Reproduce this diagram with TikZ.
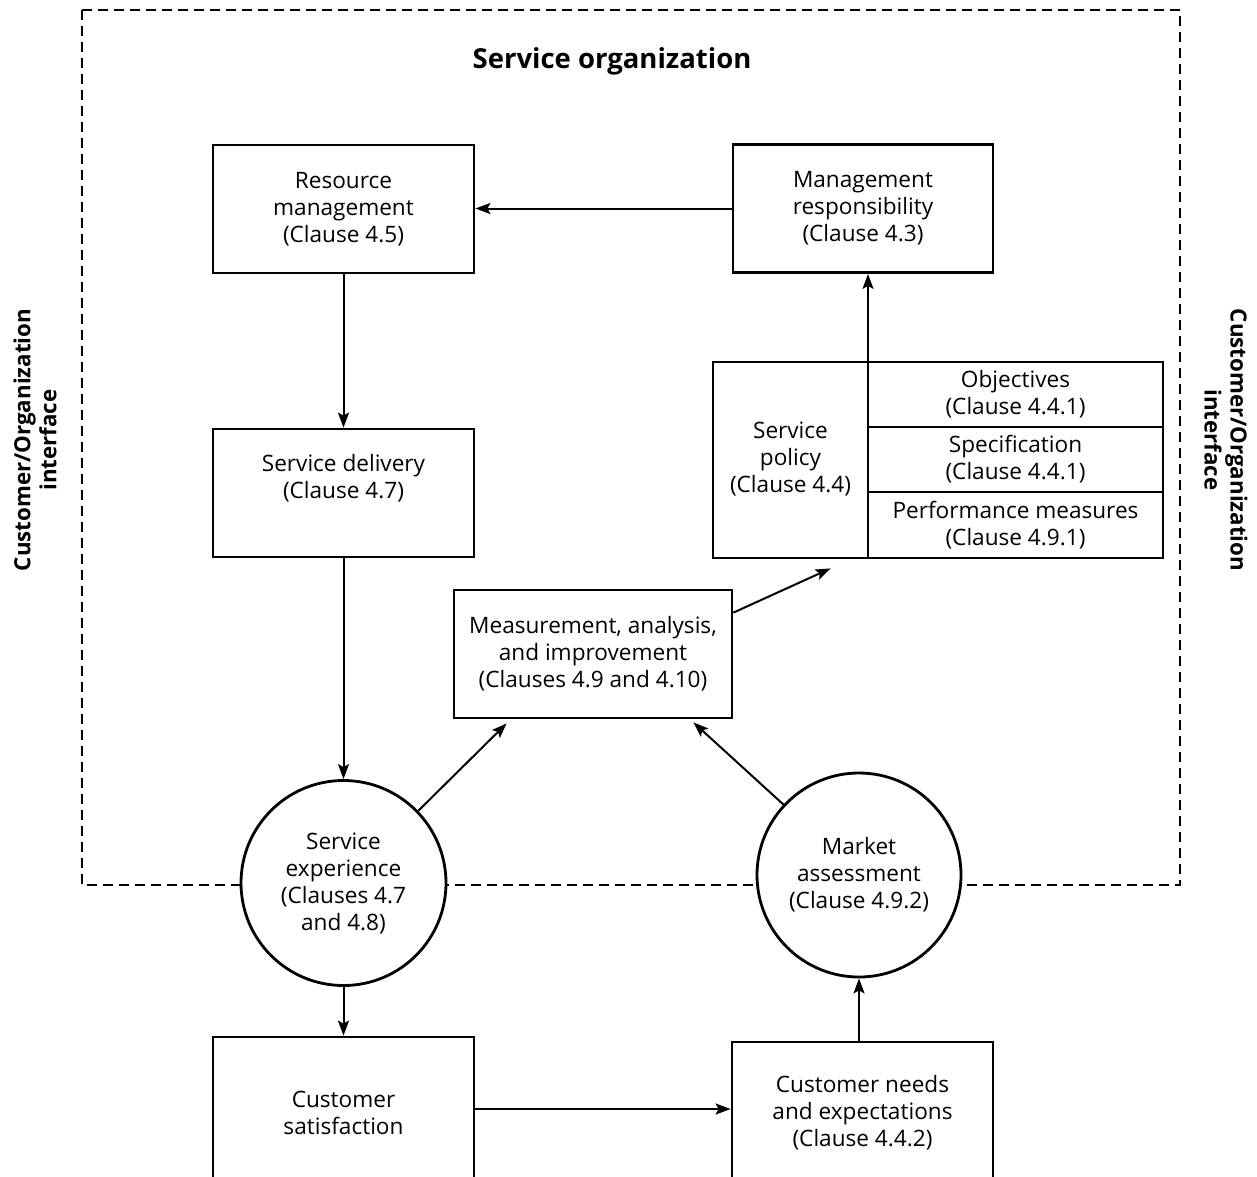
\documentclass[tikz,border=0pt]{standalone}
\usepackage{fontspec}
\setmainfont{Open Sans}
\usetikzlibrary{arrows.meta,calc}
\begin{document}
\begin{tikzpicture}[x=1pt,y=-1pt,
  txt/.style={align=center, font=\fontsize{22.6}{27}\selectfont, inner sep=0pt},
  box/.style={txt, draw, line width=2.8pt, fill=white},
  circ/.style={txt, draw, circle, line width=2.8pt, fill=white},
  conn/.style={line width=2pt, -{Stealth[length=15pt,width=11pt,inset=3pt]}},
  frame/.style={line width=2.5pt, dash pattern=on 10pt off 6pt},
  lbl/.style={align=center, font=\fontsize{22.3}{26}\selectfont\bfseries, inner sep=0pt}]
\useasboundingbox (0,0) rectangle (1257,1176);
\clip (0,0) rectangle (1257,1176);
\draw[frame] (82,10) rectangle (1180,885);
\node[lbl, font=\fontsize{27.5}{30}\selectfont\bfseries] (org) at (612,61) {Service organization};
\node[lbl, rotate=90] (li) at (35,440) {Customer/Organization\\interface};
\node[lbl, rotate=-90] (ri) at (1226,440) {Customer/Organization\\interface};

\node[box, minimum width=261, minimum height=128] (rm) at (343.5,209) {Resource\\management\\(Clause 4.5)};
\node[box, minimum width=260, minimum height=128] (mg) at (863,208.5) {Management\\responsibility\\(Clause 4.3)};
\node[box, minimum width=261, minimum height=128] (sd) at (343.5,493) {Service delivery\\(Clause 4.7)\\[6pt]};
\node[box, minimum width=278, minimum height=128] (ma) at (593,654) {Measurement, analysis,\\and improvement\\(Clauses 4.9 and 4.10)};

\node[box, minimum width=450, minimum height=196] (sp) at (938,460) {};
\coordinate (spt) at (868,362);
\coordinate (spb) at (868,558);
\draw[line width=2.2pt] (spt) -- (spb);
\draw[line width=2.2pt] (868,427) -- (868,427 -| sp.east);
\draw[line width=2.2pt] (868,492) -- (868,492 -| sp.east);
\node[txt] (spl) at (790.5,459) {Service\\policy\\(Clause 4.4)};
\node[txt] (obj) at (1015.5,394.5) {Objectives\\(Clause 4.4.1)};
\node[txt] (spe) at (1015.5,459.5) {Specification\\(Clause 4.4.1)};
\node[txt] (per) at (1015.5,525) {Performance measures\\(Clause 4.9.1)};

\node[circ, minimum size=205] (se) at (343.5,883) {Service\\experience\\(Clauses 4.7\\and 4.8)};
\node[circ, minimum size=204] (mk) at (859,875) {Market\\assessment\\(Clause 4.9.2)};

\node[box, minimum width=261, minimum height=152] (cs) at (343.5,1113) {Customer\\satisfaction};
\node[box, minimum width=261, minimum height=142] (cn) at (862.5,1113) {Customer needs\\and expectations\\(Clause 4.4.2)};

\draw[conn] (mg.west) -- (mg.west -| rm.east);
\draw[conn] (rm.south) -- (sd.north);
\draw[conn] (sd.south) -- (se.north);
\draw[conn] (se.south) -- (cs.north);
\draw[conn] ([yshift=4pt]cs.east) -- ([yshift=4pt]cs.east -| cn.west);
\draw[conn] (mk.south |- cn.north) -- (mk.south);
\draw[conn] (spt) -- (spt |- mg.south);
\draw[conn] ($(ma.north east)+(0,24)$) -- ($(sp.south west)+(119,9)$);
\draw[conn] (se.44) -- ($(ma.south west)+(54,4)$);
\draw[conn] (mk.137) -- ($(ma.south east)+(-40,3)$);
\end{tikzpicture}
\end{document}
